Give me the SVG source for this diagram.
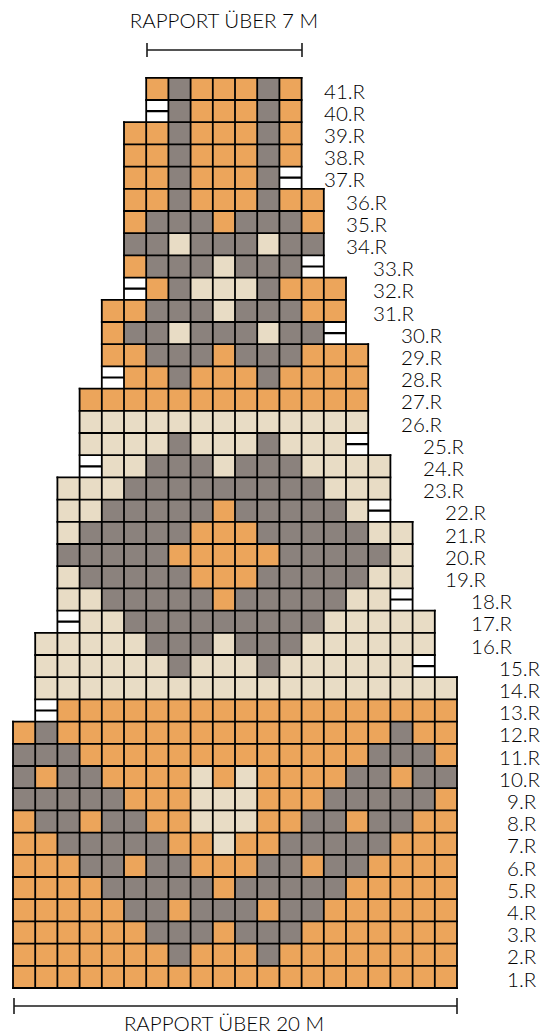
<svg xmlns="http://www.w3.org/2000/svg" width="544" height="1035" viewBox="0 0 544 1035">
<style>
.o{fill:#ECA55B}.g{fill:#8B827D}.b{fill:#E8DCC5}.w{fill:#FFFFFF}
.grid{fill:none;stroke:#000;stroke-width:1.8;stroke-linecap:square}
.mid{fill:none;stroke:#000;stroke-width:2.2}
text{font-family:Lato,"Open Sans","Liberation Sans",sans-serif;font-size:20.5px;font-weight:300;fill:#000}
.br{fill:none;stroke:#1c1c1c;stroke-width:1.6}
</style>
<rect x="0" y="0" width="544" height="1035" fill="#fff"/>
<g id="chart" transform="translate(13 77.8) scale(22.2)">
<g id="cells">
<g id="r1"><rect class="o" x="0" y="40" width="20" height="1"/></g>
<g id="r2"><rect class="o" x="0" y="39" width="7" height="1"/><rect class="g" x="7" y="39" width="1" height="1"/><rect class="o" x="8" y="39" width="3" height="1"/><rect class="g" x="11" y="39" width="1" height="1"/><rect class="o" x="12" y="39" width="8" height="1"/></g>
<g id="r3"><rect class="o" x="0" y="38" width="6" height="1"/><rect class="g" x="6" y="38" width="3" height="1"/><rect class="o" x="9" y="38" width="1" height="1"/><rect class="g" x="10" y="38" width="3" height="1"/><rect class="o" x="13" y="38" width="7" height="1"/></g>
<g id="r4"><rect class="o" x="0" y="37" width="5" height="1"/><rect class="g" x="5" y="37" width="2" height="1"/><rect class="o" x="7" y="37" width="1" height="1"/><rect class="g" x="8" y="37" width="3" height="1"/><rect class="o" x="11" y="37" width="1" height="1"/><rect class="g" x="12" y="37" width="2" height="1"/><rect class="o" x="14" y="37" width="6" height="1"/></g>
<g id="r5"><rect class="o" x="0" y="36" width="4" height="1"/><rect class="g" x="4" y="36" width="5" height="1"/><rect class="o" x="9" y="36" width="1" height="1"/><rect class="g" x="10" y="36" width="5" height="1"/><rect class="o" x="15" y="36" width="5" height="1"/></g>
<g id="r6"><rect class="o" x="0" y="35" width="3" height="1"/><rect class="g" x="3" y="35" width="2" height="1"/><rect class="o" x="5" y="35" width="1" height="1"/><rect class="g" x="6" y="35" width="2" height="1"/><rect class="o" x="8" y="35" width="3" height="1"/><rect class="g" x="11" y="35" width="2" height="1"/><rect class="o" x="13" y="35" width="1" height="1"/><rect class="g" x="14" y="35" width="2" height="1"/><rect class="o" x="16" y="35" width="4" height="1"/></g>
<g id="r7"><rect class="o" x="0" y="34" width="2" height="1"/><rect class="g" x="2" y="34" width="5" height="1"/><rect class="o" x="7" y="34" width="2" height="1"/><rect class="b" x="9" y="34" width="1" height="1"/><rect class="o" x="10" y="34" width="2" height="1"/><rect class="g" x="12" y="34" width="5" height="1"/><rect class="o" x="17" y="34" width="3" height="1"/></g>
<g id="r8"><rect class="o" x="0" y="33" width="1" height="1"/><rect class="g" x="1" y="33" width="2" height="1"/><rect class="o" x="3" y="33" width="1" height="1"/><rect class="g" x="4" y="33" width="2" height="1"/><rect class="o" x="6" y="33" width="2" height="1"/><rect class="b" x="8" y="33" width="3" height="1"/><rect class="o" x="11" y="33" width="2" height="1"/><rect class="g" x="13" y="33" width="2" height="1"/><rect class="o" x="15" y="33" width="1" height="1"/><rect class="g" x="16" y="33" width="2" height="1"/><rect class="o" x="18" y="33" width="2" height="1"/></g>
<g id="r9"><rect class="g" x="0" y="32" width="5" height="1"/><rect class="o" x="5" y="32" width="3" height="1"/><rect class="b" x="8" y="32" width="3" height="1"/><rect class="o" x="11" y="32" width="3" height="1"/><rect class="g" x="14" y="32" width="5" height="1"/><rect class="o" x="19" y="32" width="1" height="1"/></g>
<g id="r10"><rect class="g" x="0" y="31" width="1" height="1"/><rect class="o" x="1" y="31" width="1" height="1"/><rect class="g" x="2" y="31" width="2" height="1"/><rect class="o" x="4" y="31" width="4" height="1"/><rect class="b" x="8" y="31" width="1" height="1"/><rect class="o" x="9" y="31" width="1" height="1"/><rect class="b" x="10" y="31" width="1" height="1"/><rect class="o" x="11" y="31" width="4" height="1"/><rect class="g" x="15" y="31" width="2" height="1"/><rect class="o" x="17" y="31" width="1" height="1"/><rect class="g" x="18" y="31" width="2" height="1"/></g>
<g id="r11"><rect class="g" x="0" y="30" width="3" height="1"/><rect class="o" x="3" y="30" width="13" height="1"/><rect class="g" x="16" y="30" width="3" height="1"/><rect class="o" x="19" y="30" width="1" height="1"/></g>
<g id="r12"><rect class="o" x="0" y="29" width="1" height="1"/><rect class="g" x="1" y="29" width="1" height="1"/><rect class="o" x="2" y="29" width="15" height="1"/><rect class="g" x="17" y="29" width="1" height="1"/><rect class="o" x="18" y="29" width="2" height="1"/></g>
<g id="r13"><rect class="w" x="1" y="28" width="1" height="1"/><rect class="o" x="2" y="28" width="18" height="1"/></g>
<g id="r14"><rect class="b" x="1" y="27" width="19" height="1"/></g>
<g id="r15"><rect class="b" x="1" y="26" width="6" height="1"/><rect class="g" x="7" y="26" width="1" height="1"/><rect class="b" x="8" y="26" width="3" height="1"/><rect class="g" x="11" y="26" width="1" height="1"/><rect class="b" x="12" y="26" width="6" height="1"/><rect class="w" x="18" y="26" width="1" height="1"/></g>
<g id="r16"><rect class="b" x="1" y="25" width="5" height="1"/><rect class="g" x="6" y="25" width="3" height="1"/><rect class="b" x="9" y="25" width="1" height="1"/><rect class="g" x="10" y="25" width="3" height="1"/><rect class="b" x="13" y="25" width="6" height="1"/></g>
<g id="r17"><rect class="w" x="2" y="24" width="1" height="1"/><rect class="b" x="3" y="24" width="2" height="1"/><rect class="g" x="5" y="24" width="9" height="1"/><rect class="b" x="14" y="24" width="5" height="1"/></g>
<g id="r18"><rect class="b" x="2" y="23" width="2" height="1"/><rect class="g" x="4" y="23" width="5" height="1"/><rect class="o" x="9" y="23" width="1" height="1"/><rect class="g" x="10" y="23" width="5" height="1"/><rect class="b" x="15" y="23" width="2" height="1"/><rect class="w" x="17" y="23" width="1" height="1"/></g>
<g id="r19"><rect class="b" x="2" y="22" width="1" height="1"/><rect class="g" x="3" y="22" width="5" height="1"/><rect class="o" x="8" y="22" width="3" height="1"/><rect class="g" x="11" y="22" width="5" height="1"/><rect class="b" x="16" y="22" width="2" height="1"/></g>
<g id="r20"><rect class="g" x="2" y="21" width="5" height="1"/><rect class="o" x="7" y="21" width="5" height="1"/><rect class="g" x="12" y="21" width="5" height="1"/><rect class="b" x="17" y="21" width="1" height="1"/></g>
<g id="r21"><rect class="b" x="2" y="20" width="1" height="1"/><rect class="g" x="3" y="20" width="5" height="1"/><rect class="o" x="8" y="20" width="3" height="1"/><rect class="g" x="11" y="20" width="5" height="1"/><rect class="b" x="16" y="20" width="2" height="1"/></g>
<g id="r22"><rect class="b" x="2" y="19" width="2" height="1"/><rect class="g" x="4" y="19" width="5" height="1"/><rect class="o" x="9" y="19" width="1" height="1"/><rect class="g" x="10" y="19" width="5" height="1"/><rect class="b" x="15" y="19" width="1" height="1"/><rect class="w" x="16" y="19" width="1" height="1"/></g>
<g id="r23"><rect class="b" x="2" y="18" width="3" height="1"/><rect class="g" x="5" y="18" width="9" height="1"/><rect class="b" x="14" y="18" width="3" height="1"/></g>
<g id="r24"><rect class="w" x="3" y="17" width="1" height="1"/><rect class="b" x="4" y="17" width="2" height="1"/><rect class="g" x="6" y="17" width="3" height="1"/><rect class="b" x="9" y="17" width="1" height="1"/><rect class="g" x="10" y="17" width="3" height="1"/><rect class="b" x="13" y="17" width="4" height="1"/></g>
<g id="r25"><rect class="b" x="3" y="16" width="4" height="1"/><rect class="g" x="7" y="16" width="1" height="1"/><rect class="b" x="8" y="16" width="3" height="1"/><rect class="g" x="11" y="16" width="1" height="1"/><rect class="b" x="12" y="16" width="3" height="1"/><rect class="w" x="15" y="16" width="1" height="1"/></g>
<g id="r26"><rect class="b" x="3" y="15" width="13" height="1"/></g>
<g id="r27"><rect class="o" x="3" y="14" width="13" height="1"/></g>
<g id="r28"><rect class="w" x="4" y="13" width="1" height="1"/><rect class="o" x="5" y="13" width="2" height="1"/><rect class="g" x="7" y="13" width="1" height="1"/><rect class="o" x="8" y="13" width="3" height="1"/><rect class="g" x="11" y="13" width="1" height="1"/><rect class="o" x="12" y="13" width="4" height="1"/></g>
<g id="r29"><rect class="o" x="4" y="12" width="2" height="1"/><rect class="g" x="6" y="12" width="3" height="1"/><rect class="o" x="9" y="12" width="1" height="1"/><rect class="g" x="10" y="12" width="3" height="1"/><rect class="o" x="13" y="12" width="3" height="1"/></g>
<g id="r30"><rect class="o" x="4" y="11" width="1" height="1"/><rect class="g" x="5" y="11" width="2" height="1"/><rect class="b" x="7" y="11" width="1" height="1"/><rect class="g" x="8" y="11" width="3" height="1"/><rect class="b" x="11" y="11" width="1" height="1"/><rect class="g" x="12" y="11" width="2" height="1"/><rect class="w" x="14" y="11" width="1" height="1"/></g>
<g id="r31"><rect class="o" x="4" y="10" width="2" height="1"/><rect class="g" x="6" y="10" width="3" height="1"/><rect class="b" x="9" y="10" width="1" height="1"/><rect class="g" x="10" y="10" width="3" height="1"/><rect class="o" x="13" y="10" width="2" height="1"/></g>
<g id="r32"><rect class="w" x="5" y="9" width="1" height="1"/><rect class="o" x="6" y="9" width="1" height="1"/><rect class="g" x="7" y="9" width="1" height="1"/><rect class="b" x="8" y="9" width="3" height="1"/><rect class="g" x="11" y="9" width="1" height="1"/><rect class="o" x="12" y="9" width="3" height="1"/></g>
<g id="r33"><rect class="o" x="5" y="8" width="1" height="1"/><rect class="g" x="6" y="8" width="3" height="1"/><rect class="b" x="9" y="8" width="1" height="1"/><rect class="g" x="10" y="8" width="3" height="1"/><rect class="w" x="13" y="8" width="1" height="1"/></g>
<g id="r34"><rect class="g" x="5" y="7" width="2" height="1"/><rect class="b" x="7" y="7" width="1" height="1"/><rect class="g" x="8" y="7" width="3" height="1"/><rect class="b" x="11" y="7" width="1" height="1"/><rect class="g" x="12" y="7" width="2" height="1"/></g>
<g id="r35"><rect class="o" x="5" y="6" width="1" height="1"/><rect class="g" x="6" y="6" width="3" height="1"/><rect class="o" x="9" y="6" width="1" height="1"/><rect class="g" x="10" y="6" width="3" height="1"/><rect class="o" x="13" y="6" width="1" height="1"/></g>
<g id="r36"><rect class="o" x="5" y="5" width="2" height="1"/><rect class="g" x="7" y="5" width="1" height="1"/><rect class="o" x="8" y="5" width="3" height="1"/><rect class="g" x="11" y="5" width="1" height="1"/><rect class="o" x="12" y="5" width="2" height="1"/></g>
<g id="r37"><rect class="o" x="5" y="4" width="2" height="1"/><rect class="g" x="7" y="4" width="1" height="1"/><rect class="o" x="8" y="4" width="3" height="1"/><rect class="g" x="11" y="4" width="1" height="1"/><rect class="w" x="12" y="4" width="1" height="1"/></g>
<g id="r38"><rect class="o" x="5" y="3" width="2" height="1"/><rect class="g" x="7" y="3" width="1" height="1"/><rect class="o" x="8" y="3" width="3" height="1"/><rect class="g" x="11" y="3" width="1" height="1"/><rect class="o" x="12" y="3" width="1" height="1"/></g>
<g id="r39"><rect class="o" x="5" y="2" width="2" height="1"/><rect class="g" x="7" y="2" width="1" height="1"/><rect class="o" x="8" y="2" width="3" height="1"/><rect class="g" x="11" y="2" width="1" height="1"/><rect class="o" x="12" y="2" width="1" height="1"/></g>
<g id="r40"><rect class="w" x="6" y="1" width="1" height="1"/><rect class="g" x="7" y="1" width="1" height="1"/><rect class="o" x="8" y="1" width="3" height="1"/><rect class="g" x="11" y="1" width="1" height="1"/><rect class="o" x="12" y="1" width="1" height="1"/></g>
<g id="r41"><rect class="o" x="6" y="0" width="1" height="1"/><rect class="g" x="7" y="0" width="1" height="1"/><rect class="o" x="8" y="0" width="3" height="1"/><rect class="g" x="11" y="0" width="1" height="1"/><rect class="o" x="12" y="0" width="1" height="1"/></g>
</g>
<g id="gridlines">
<path class="grid" vector-effect="non-scaling-stroke" d="M0 41H20M0 40H20M0 39H20M0 38H20M0 37H20M0 36H20M0 35H20M0 34H20M0 33H20M0 32H20M0 31H20M0 30H20M0 29H20M1 28H20M1 27H20M1 26H19M1 25H19M2 24H19M2 23H18M2 22H18M2 21H18M2 20H18M2 19H17M2 18H17M3 17H17M3 16H16M3 15H16M3 14H16M4 13H16M4 12H16M4 11H15M4 10H15M5 9H15M5 8H14M5 7H14M5 6H14M5 5H14M5 4H13M5 3H13M5 2H13M6 1H13M6 0H13"/>
<path class="grid" vector-effect="non-scaling-stroke" d="M0 41V29M1 41V25M2 41V18M3 41V14M4 41V10M5 41V2M6 41V0M7 41V0M8 41V0M9 41V0M10 41V0M11 41V0M12 41V0M13 41V0M14 41V5M15 41V9M16 41V12M17 41V17M18 41V20M19 41V24M20 41V27"/>
<path class="mid" vector-effect="non-scaling-stroke" d="M1 28.5H2M18 26.5H19M2 24.5H3M17 23.5H18M16 19.5H17M3 17.5H4M15 16.5H16M4 13.5H5M14 11.5H15M5 9.5H6M13 8.5H14M12 4.5H13M6 1.5H7"/>
</g>
</g>
<g id="rapport-top">
<text x="224" y="28" text-anchor="middle">RAPPORT ÜBER 7 M</text>
<path class="br" d="M147 50H302M147 43V57M302 43V57"/>
</g>
<g id="rapport-bottom">
<path class="br" d="M14 1006H457M14 998V1014M457 998V1014"/>
<text x="224" y="1031" text-anchor="middle">RAPPORT ÜBER 20 M</text>
</g>
<g id="row-labels">
<text x="324" y="98.5">41.R</text>
<text x="324" y="120.7">40.R</text>
<text x="324" y="142.9">39.R</text>
<text x="324" y="165.1">38.R</text>
<text x="324" y="187.3">37.R</text>
<text x="346" y="209.5">36.R</text>
<text x="346" y="231.7">35.R</text>
<text x="346" y="253.9">34.R</text>
<text x="373" y="276.1">33.R</text>
<text x="373" y="298.3">32.R</text>
<text x="373" y="320.5">31.R</text>
<text x="401" y="342.7">30.R</text>
<text x="401" y="364.9">29.R</text>
<text x="401" y="387.1">28.R</text>
<text x="401" y="409.3">27.R</text>
<text x="401" y="431.5">26.R</text>
<text x="423" y="453.7">25.R</text>
<text x="423" y="475.9">24.R</text>
<text x="423" y="498.1">23.R</text>
<text x="445" y="520.3">22.R</text>
<text x="445" y="542.5">21.R</text>
<text x="445" y="564.7">20.R</text>
<text x="445" y="586.9">19.R</text>
<text x="471" y="609.1">18.R</text>
<text x="471" y="631.3">17.R</text>
<text x="471" y="653.5">16.R</text>
<text x="499" y="675.7">15.R</text>
<text x="499" y="697.9">14.R</text>
<text x="499" y="720.1">13.R</text>
<text x="499" y="742.3">12.R</text>
<text x="499" y="764.5">11.R</text>
<text x="499" y="786.7">10.R</text>
<text x="507" y="808.9">9.R</text>
<text x="507" y="831.1">8.R</text>
<text x="507" y="853.3">7.R</text>
<text x="507" y="875.5">6.R</text>
<text x="507" y="897.7">5.R</text>
<text x="507" y="919.9">4.R</text>
<text x="507" y="942.1">3.R</text>
<text x="507" y="964.3">2.R</text>
<text x="507" y="986.5">1.R</text>
</g>
</svg>
